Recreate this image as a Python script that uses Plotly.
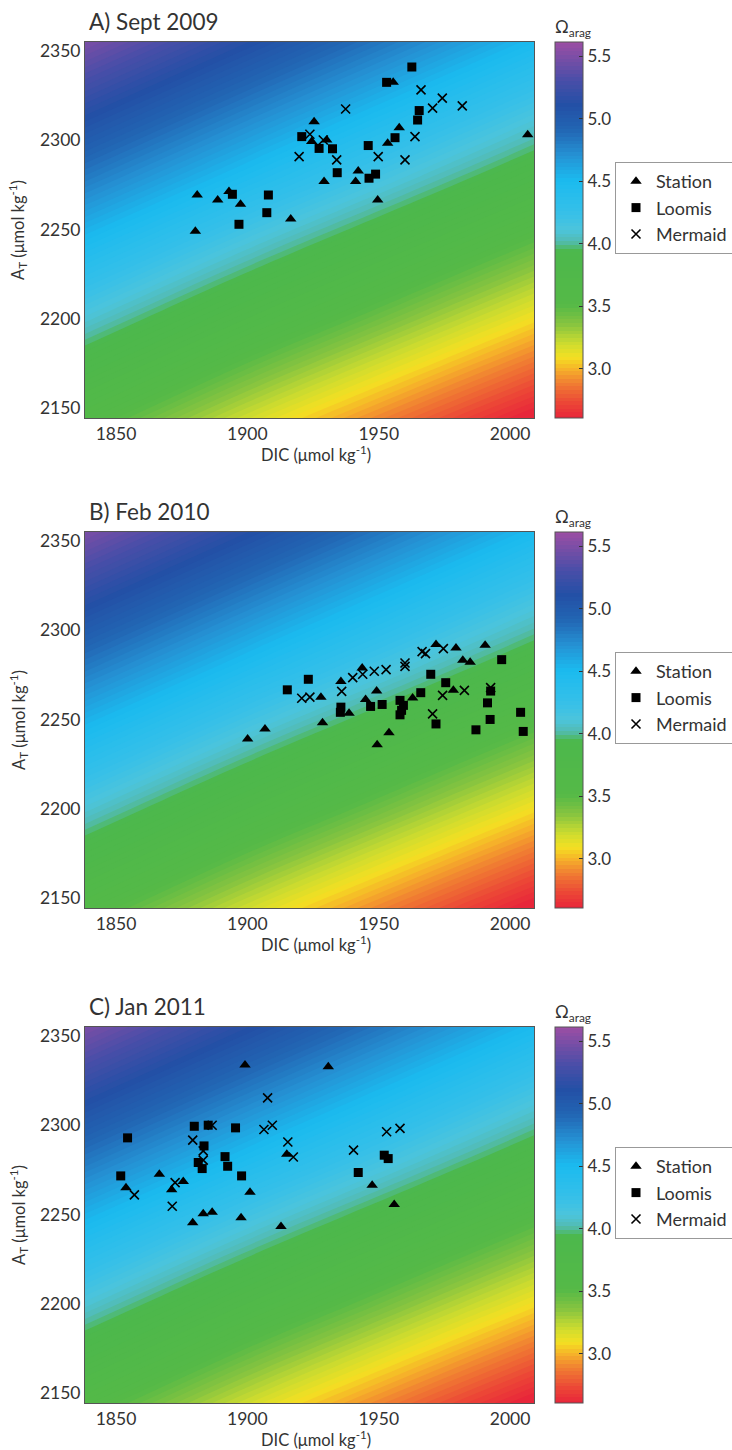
import plotly.graph_objects as go

W, H = 732, 1450

# ---------------- data ----------------
# Background Omega_arag field (values read from the reference colours)
dic_grid = [1820, 1900, 1980, 2060]
at_grid = [2120, 2200, 2280, 2360]
omega_grid = [
    [3.48, 2.96, 2.50, 2.08],
    [4.21, 3.72, 3.25, 2.80],
    [4.93, 4.46, 4.00, 3.54],
    [5.64, 5.17, 4.71, 4.25],
]

panel_titles = ["A) Sept 2009", "B) Feb 2010", "C) Jan 2011"]
series_names = ["Station", "Loomis", "Mermaid"]
omega_ticks = [3.0, 3.5, 4.0, 4.5, 5.0, 5.5]
dic_ticks = [1850, 1900, 1950, 2000]
at_ticks = [2150, 2200, 2250, 2300, 2350]

# Panel A - Sept 2009
a_station_dic = [2006.7, 1925.4, 1924.5, 1930.2, 1957.8, 1953.4, 1942.2, 1941.2, 1929.2, 1949.6,
                 1893.0, 1880.9, 1888.7, 1897.4, 1916.5, 1880.2, 1955.5]
a_station_at = [2303.0, 2310.4, 2299.2, 2300.1, 2307.0, 2298.3, 2282.8, 2276.8, 2276.8, 2266.5,
                2271.2, 2269.3, 2266.5, 2264.1, 2255.9, 2249.0, 2332.4]
a_loomis_dic = [1962.6, 1953.0, 1965.4, 1964.8, 1956.2, 1946.0, 1920.7, 1927.3, 1932.4, 1934.2,
                1948.8, 1946.3, 1894.3, 1908.0, 1907.4, 1896.8]
a_loomis_at = [2341.0, 2332.4, 2316.6, 2311.3, 2301.4, 2297.0, 2302.0, 2295.4, 2295.2, 2281.8,
               2281.0, 2278.7, 2269.7, 2269.3, 2259.4, 2252.9]
a_mermaid_dic = [1966.1, 1974.2, 1970.5, 1981.8, 1937.4, 1963.8, 1923.8, 1928.9, 1919.7, 1934.0,
                 1949.8, 1960.0]
a_mermaid_at = [2328.2, 2323.6, 2318.0, 2319.2, 2317.5, 2302.0, 2303.3, 2300.1, 2290.8, 2289.0,
                2290.8, 2289.0]

# Panel B - Feb 2010
b_station_dic = [1971.8, 1979.4, 1990.5, 1982.0, 1984.8, 1943.7, 1935.6, 1949.2, 1928.0, 1978.4,
                 1945.0, 1962.9, 1938.7, 1928.6, 1953.9, 1949.4, 1906.7, 1900.1]
b_station_at = [2292.0, 2290.0, 2291.6, 2283.1, 2282.1, 2278.8, 2271.3, 2265.9, 2262.5, 2266.3,
                2261.2, 2262.0, 2253.5, 2248.1, 2242.5, 2235.9, 2244.7, 2239.1]
b_loomis_dic = [1996.8, 1969.8, 1975.5, 1966.0, 1992.6, 1991.4, 1992.4, 1987.0, 1971.8, 2004.0,
                2005.0, 1923.2, 1915.2, 1946.9, 1951.3, 1935.6, 1935.4, 1958.1, 1959.4, 1958.7,
                1958.1]
b_loomis_at = [2283.5, 2275.3, 2270.6, 2265.0, 2265.9, 2259.3, 2250.0, 2244.2, 2247.5, 2254.0,
               2243.3, 2272.5, 2266.6, 2257.3, 2258.4, 2256.9, 2254.0, 2260.7, 2257.9, 2255.1,
               2252.6]
b_mermaid_dic = [1967.8, 1966.5, 1974.6, 1960.0, 1960.0, 1952.8, 1948.3, 1943.9, 1940.1, 1935.9,
                 1923.8, 1920.7, 1982.6, 1974.3, 1970.5, 1992.6]
b_mermaid_at = [2286.9, 2288.0, 2289.7, 2281.6, 2279.7, 2277.9, 2277.0, 2275.3, 2273.4, 2265.7,
                2262.5, 2261.9, 2266.3, 2263.5, 2253.1, 2267.8]

# Panel C - Jan 2011
c_station_dic = [1899.1, 1930.8, 1915.0, 1866.5, 1853.8, 1871.2, 1875.6, 1901.0, 1883.2, 1886.6,
                 1879.2, 1897.6, 1912.8, 1947.5, 1955.9]
c_station_at = [2333.7, 2332.7, 2283.7, 2272.5, 2265.0, 2263.9, 2268.5, 2262.5, 2250.4, 2251.3,
                2245.3, 2248.1, 2243.3, 2266.3, 2255.6]
c_loomis_dic = [1854.4, 1851.8, 1879.8, 1885.1, 1895.5, 1883.5, 1891.5, 1881.3, 1882.8, 1892.5,
                1897.8, 1942.2, 1952.1, 1953.6]
c_loomis_at = [2292.9, 2271.6, 2299.4, 2300.0, 2298.5, 2288.4, 2282.4, 2279.1, 2275.7, 2277.0,
               2271.6, 2273.5, 2283.2, 2281.3]
c_mermaid_dic = [1907.7, 1906.3, 1909.5, 1886.6, 1879.2, 1883.2, 1883.2, 1915.4, 1917.5, 1940.4,
                 1953.0, 1958.1, 1872.5, 1857.0, 1871.4]
c_mermaid_at = [2315.3, 2297.6, 2300.0, 2300.0, 2291.6, 2285.6, 2280.4, 2290.6, 2282.2, 2286.0,
                2296.3, 2298.2, 2267.8, 2261.0, 2254.6]

panels = [
    [(a_station_dic, a_station_at), (a_loomis_dic, a_loomis_at), (a_mermaid_dic, a_mermaid_at)],
    [(b_station_dic, b_station_at), (b_loomis_dic, b_loomis_at), (b_mermaid_dic, b_mermaid_at)],
    [(c_station_dic, c_station_at), (c_loomis_dic, c_loomis_at), (c_mermaid_dic, c_mermaid_at)],
]

# ---------------- styling ----------------
FONT = "Lato, 'Open Sans', sans-serif"
TXT = "#333333"
colorscale = [
    [0.000, "#e8263a"],
    [0.044, "#ec4a36"],
    [0.094, "#f08032"],
    [0.128, "#f6b02a"],
    [0.161, "#f4e022"],
    [0.200, "#cadb30"],
    [0.250, "#86c440"],
    [0.300, "#55b947"],
    [0.445, "#4cb84c"],
    [0.470, "#52bcb4"],
    [0.500, "#4cc4dc"],
    [0.540, "#38c0e8"],
    [0.631, "#1bbbef"],
    [0.698, "#2592d4"],
    [0.765, "#2266b4"],
    [0.832, "#2350a6"],
    [0.899, "#4a4ea8"],
    [1.000, "#9c4ea4"],
]
cmin, cmax = 2.62, 5.6
xrange_ = [1838.2, 2009.1]
yrange_ = [2144.4, 2355.0]

x0_px, x1_px = 85, 534
tops = [42, 532, 1027]
plot_h = 376
cb_x_px, cb_w = 555, 28
legend_x_px = 615

symbols = ["triangle-up", "square", "x-thin"]
sizes = [10, 9, 9]

fig = go.Figure()
layout = dict(
    width=W, height=H, margin=dict(l=0, r=0, t=0, b=0, autoexpand=False),
    paper_bgcolor="white", plot_bgcolor="white",
    font=dict(family=FONT, color=TXT, size=17),
    annotations=[],
)

for i in range(3):
    sfx = "" if i == 0 else str(i + 1)
    xa, ya = "x" + sfx, "y" + sfx
    top, bot = tops[i], tops[i] + plot_h
    ydom = [1 - bot / H, 1 - top / H]
    ca = "coloraxis" + sfx

    fig.add_trace(go.Contour(
        x=dic_grid, y=at_grid, z=omega_grid,
        contours=dict(start=cmin, end=cmax, size=(cmax - cmin) / 100,
                      coloring="fill", showlines=False),
        line=dict(width=0),
        coloraxis=ca, xaxis=xa, yaxis=ya, hoverinfo="skip",
    ))
    layout[ca] = dict(
        cmin=cmin, cmax=cmax, colorscale=colorscale,
        colorbar=dict(
            x=cb_x_px / W, xanchor="left", xpad=0, ypad=0,
            y=(ydom[0] + ydom[1]) / 2, yanchor="middle",
            len=plot_h / H, lenmode="fraction",
            thickness=cb_w, thicknessmode="pixels",
            outlinecolor="#555555", outlinewidth=1,
            tickvals=omega_ticks, ticktext=[f"{v:.1f}" for v in omega_ticks],
            ticks="inside", ticklen=4, tickcolor="#333333",
            tickfont=dict(family=FONT, size=17, color=TXT),
        ),
    )

    leg = "legend" + sfx
    for j, (dx, dy) in enumerate(panels[i]):
        mk = dict(symbol=symbols[j], size=sizes[j], color="black")
        if symbols[j] == "x-thin":
            mk["line"] = dict(color="black", width=1.6)
        fig.add_trace(go.Scatter(
            x=dx, y=dy, mode="markers", name=series_names[j], marker=mk,
            xaxis=xa, yaxis=ya, legend=leg, showlegend=True,
        ))
    layout[leg] = dict(
        x=legend_x_px / W, xanchor="left", y=1 - (top + 120) / H, yanchor="top",
        bgcolor="white", bordercolor="#999999", borderwidth=1,
        font=dict(family=FONT, size=18, color=TXT), itemwidth=30, tracegroupgap=0,
    )

    layout["xaxis" + sfx] = dict(
        domain=[x0_px / W, x1_px / W], range=xrange_, anchor=ya,
        tickvals=dic_ticks, ticks="", showgrid=False, zeroline=False,
        showline=True, mirror=True, linecolor="#555555", linewidth=1,
        tickfont=dict(family=FONT, size=17.5, color=TXT),
    )
    layout["yaxis" + sfx] = dict(
        domain=ydom, range=yrange_, anchor=xa,
        tickvals=at_ticks, ticks="", showgrid=False, zeroline=False,
        showline=True, mirror=True, linecolor="#555555", linewidth=1,
        tickfont=dict(family=FONT, size=17.5, color=TXT),
    )

    ann = layout["annotations"]
    ann.append(dict(text=panel_titles[i], x=87 / W, y=1 - (top - 21) / H, xref="paper", yref="paper",
                    xanchor="left", yanchor="middle", showarrow=False,
                    font=dict(family=FONT, size=22.5, color=TXT)))
    ann.append(dict(text="Ω<sub>arag</sub>", x=(cb_x_px - 2) / W, y=1 - (top - 14) / H,
                    xref="paper", yref="paper", xanchor="left", yanchor="middle", showarrow=False,
                    font=dict(family=FONT, size=17, color=TXT)))
    ann.append(dict(text="DIC (μmol kg<sup>-1</sup>)", x=316 / W,
                    y=1 - (bot + 36) / H, xref="paper", yref="paper",
                    xanchor="center", yanchor="middle", showarrow=False,
                    font=dict(family=FONT, size=16.5, color=TXT)))
    ann.append(dict(text="A<sub>T</sub> (μmol kg<sup>-1</sup>)", x=18 / W,
                    y=1 - (top + plot_h / 2) / H, xref="paper", yref="paper",
                    xanchor="center", yanchor="middle", textangle=-90, showarrow=False,
                    font=dict(family=FONT, size=16.5, color=TXT)))

fig.update_layout(**layout)
fig.write_html("out.html")
